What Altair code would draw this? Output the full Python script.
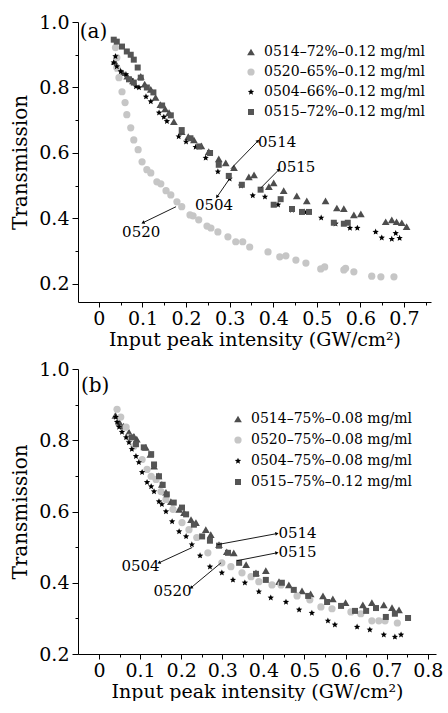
import math
import altair as alt
import pandas as pd

# ---------------- data ----------------
series_ids = ["0514", "0520", "0504", "0515"]
labels_a = ["0514–72%–0.12 mg/ml", "0520–65%–0.12 mg/ml",
            "0504–66%–0.12 mg/ml", "0515–72%–0.12 mg/ml"]
labels_b = ["0514–75%–0.08 mg/ml", "0520–75%–0.08 mg/ml",
            "0504–75%–0.08 mg/ml", "0515–75%–0.12 mg/ml"]

# panel (a)
a_0514_x = [0.036, 0.045, 0.055, 0.065, 0.078, 0.096, 0.105, 0.119, 0.13, 0.141, 0.152, 0.161,
            0.172, 0.19, 0.205, 0.218, 0.235, 0.252, 0.275, 0.291, 0.31, 0.344, 0.356, 0.39,
            0.401, 0.424, 0.454, 0.477, 0.52, 0.546, 0.562, 0.585, 0.601, 0.658, 0.672, 0.683,
            0.695, 0.706]
a_0514_y = [0.88, 0.86, 0.845, 0.835, 0.82, 0.834, 0.81, 0.794, 0.77, 0.748, 0.735, 0.723,
            0.696, 0.665, 0.65, 0.64, 0.622, 0.604, 0.582, 0.57, 0.555, 0.527, 0.533, 0.497,
            0.509, 0.485, 0.469, 0.454, 0.454, 0.432, 0.43, 0.411, 0.414, 0.39, 0.396, 0.39,
            0.387, 0.375]
a_0520_x = [0.038, 0.041, 0.041, 0.046, 0.053, 0.06, 0.064, 0.073, 0.08, 0.09, 0.099, 0.11,
            0.119, 0.133, 0.142, 0.154, 0.165, 0.179, 0.19, 0.209, 0.216, 0.229, 0.248, 0.257,
            0.273, 0.296, 0.314, 0.33, 0.346, 0.388, 0.415, 0.429, 0.452, 0.475, 0.509, 0.518,
            0.562, 0.566, 0.585, 0.626, 0.647, 0.677]
a_0520_y = [0.922, 0.891, 0.861, 0.83, 0.787, 0.754, 0.717, 0.677, 0.64, 0.61, 0.573, 0.549,
            0.539, 0.512, 0.506, 0.485, 0.472, 0.451, 0.436, 0.411, 0.408, 0.396, 0.377, 0.371,
            0.359, 0.344, 0.329, 0.329, 0.313, 0.298, 0.283, 0.286, 0.273, 0.264, 0.246, 0.252,
            0.243, 0.248, 0.237, 0.224, 0.222, 0.222]
a_0504_x = [0.038, 0.034, 0.041, 0.05, 0.062, 0.073, 0.085, 0.092, 0.108, 0.119, 0.138, 0.149,
            0.156, 0.183, 0.2, 0.222, 0.245, 0.273, 0.3, 0.326, 0.353, 0.381, 0.411, 0.443,
            0.472, 0.51, 0.543, 0.576, 0.593, 0.635, 0.649, 0.672, 0.681, 0.69]
a_0504_y = [0.895, 0.876, 0.864, 0.849, 0.84, 0.824, 0.803, 0.8, 0.772, 0.757, 0.723, 0.71,
            0.697, 0.65, 0.634, 0.618, 0.585, 0.543, 0.521, 0.5, 0.47, 0.466, 0.442, 0.426,
            0.42, 0.402, 0.384, 0.371, 0.371, 0.359, 0.341, 0.337, 0.355, 0.34]
a_0515_x = [0.034, 0.041, 0.053, 0.064, 0.073, 0.08, 0.089, 0.096, 0.069, 0.08, 0.11, 0.125,
            0.145, 0.165, 0.19, 0.21, 0.23, 0.255, 0.275, 0.298, 0.328, 0.371, 0.417, 0.401,
            0.443, 0.466, 0.482, 0.539, 0.562, 0.571]
a_0515_y = [0.946, 0.94, 0.925, 0.91, 0.9, 0.885, 0.861, 0.83, 0.825, 0.815, 0.8, 0.785,
            0.745, 0.715, 0.67, 0.645, 0.62, 0.6, 0.564, 0.53, 0.503, 0.488, 0.459, 0.442,
            0.429, 0.42, 0.42, 0.387, 0.384, 0.387]

# panel (b)
b_0514_x = [0.04, 0.05, 0.06, 0.073, 0.085, 0.092, 0.114, 0.125, 0.134, 0.145, 0.153, 0.163,
            0.175, 0.195, 0.207, 0.224, 0.236, 0.26, 0.272, 0.292, 0.311, 0.328, 0.358, 0.382,
            0.406, 0.438, 0.462, 0.494, 0.515, 0.545, 0.569, 0.6, 0.642, 0.664, 0.693, 0.713,
            0.73]
b_0514_y = [0.87, 0.85, 0.84, 0.823, 0.811, 0.803, 0.78, 0.76, 0.727, 0.70, 0.676, 0.654,
            0.628, 0.606, 0.597, 0.577, 0.569, 0.549, 0.535, 0.507, 0.487, 0.484, 0.451, 0.428,
            0.434, 0.403, 0.394, 0.377, 0.369, 0.363, 0.355, 0.344, 0.338, 0.344, 0.338, 0.33,
            0.324]
b_0520_x = [0.044, 0.053, 0.066, 0.073, 0.085, 0.105, 0.117, 0.127, 0.139, 0.151, 0.163, 0.18,
            0.202, 0.219, 0.238, 0.265, 0.299, 0.321, 0.348, 0.37, 0.389, 0.421, 0.443, 0.482,
            0.513, 0.54, 0.567, 0.613, 0.637, 0.664, 0.681, 0.696, 0.726]
b_0520_y = [0.887, 0.865, 0.837, 0.808, 0.783, 0.746, 0.718, 0.699, 0.69, 0.656, 0.634, 0.606,
            0.569, 0.549, 0.527, 0.484, 0.456, 0.445, 0.428, 0.417, 0.403, 0.394, 0.394, 0.363,
            0.352, 0.332, 0.327, 0.318, 0.313, 0.293, 0.293, 0.293, 0.287]
b_0504_x = [0.041, 0.044, 0.049, 0.056, 0.066, 0.073, 0.08, 0.09, 0.097, 0.105, 0.117, 0.127,
            0.134, 0.146, 0.153, 0.163, 0.178, 0.195, 0.212, 0.226, 0.246, 0.27, 0.299, 0.326,
            0.355, 0.389, 0.418, 0.455, 0.487, 0.518, 0.557, 0.574, 0.628, 0.659, 0.693, 0.72,
            0.735]
b_0504_y = [0.865, 0.851, 0.837, 0.823, 0.808, 0.794, 0.775, 0.755, 0.738, 0.71, 0.682, 0.67,
            0.656, 0.628, 0.62, 0.6, 0.572, 0.544, 0.53, 0.507, 0.476, 0.445, 0.428, 0.408,
            0.4, 0.375, 0.358, 0.346, 0.324, 0.315, 0.293, 0.282, 0.276, 0.268, 0.254, 0.248,
            0.254]
b_0515_x = [0.08, 0.09, 0.109, 0.127, 0.134, 0.146, 0.155, 0.165, 0.182, 0.202, 0.212, 0.231,
            0.251, 0.27, 0.292, 0.314, 0.341, 0.382, 0.406, 0.445, 0.474, 0.509, 0.555, 0.589,
            0.623, 0.65, 0.674, 0.698, 0.72, 0.752]
b_0515_y = [0.808, 0.789, 0.78, 0.761, 0.732, 0.699, 0.675, 0.648, 0.625, 0.611, 0.592, 0.563,
            0.53, 0.518, 0.504, 0.484, 0.456, 0.425, 0.408, 0.4, 0.38, 0.363, 0.346, 0.335,
            0.321, 0.321, 0.329, 0.304, 0.313, 0.301]

# annotations (label text position and arrow from data point to label)
ann_text = ["0514", "0515", "0504", "0520"]
ann_a_tx = [0.409, 0.453, 0.264, 0.097]
ann_a_ty = [0.633, 0.558, 0.442, 0.359]
ann_a_x1 = [0.303, 0.372, 0.298, 0.177]
ann_a_y1 = [0.552, 0.494, 0.518, 0.436]
ann_a_x2 = [0.365, 0.413, 0.271, 0.101]
ann_a_y2 = [0.637, 0.549, 0.466, 0.387]

ann_b_tx = [0.483, 0.483, 0.101, 0.179]
ann_b_ty = [0.541, 0.486, 0.448, 0.376]
ann_b_x1 = [0.288, 0.336, 0.227, 0.297]
ann_b_y1 = [0.507, 0.462, 0.499, 0.456]
ann_b_x2 = [0.433, 0.433, 0.146, 0.224]
ann_b_y2 = [0.538, 0.484, 0.456, 0.386]

x_ticks_a = [round(i * 0.05, 2) for i in range(16)]
x_ticks_b = [round(i * 0.05, 2) for i in range(17)]
y_ticks = [round(0.2 + i * 0.1, 1) for i in range(9)]

# ---------------- styling ----------------
FONT = "DejaVu Serif"


def star_path(n=5, r_out=1.0, r_in=0.45):
    pts = []
    for k in range(2 * n):
        r = r_out if k % 2 == 0 else r_in
        ang = math.pi * k / n - math.pi / 2
        pts.append((r * math.cos(ang), r * math.sin(ang)))
    return "M" + "L".join(f"{px:.3f},{py:.3f}" for px, py in pts) + "Z"


SHAPES = ["triangle-up", "circle", star_path(), "square"]
COLORS = ["#4d4d4d", "#c6c6c6", "#000000", "#555555"]
SIZES = [60, 36, 130, 42]


def make_df(labels, xs_list, ys_list):
    rows = []
    for lab, xs, ys in zip(labels, xs_list, ys_list):
        for xv, yv in zip(xs, ys):
            rows.append({"x": xv, "y": yv, "series": lab})
    return pd.DataFrame(rows)


def legend(leg_x, leg_y, leg_pad):
    return alt.Legend(title=None, orient="none", legendX=leg_x, legendY=leg_y,
                      labelFont=FONT, labelFontSize=14, rowPadding=leg_pad,
                      labelOffset=6, padding=0, symbolStrokeWidth=0, labelLimit=0)


def panel(df, labels, tx, ty, x1, y1, x2, y2, xdom, ydom, w, h, xticks, tag, tag_xy,
          leg_x, leg_y, leg_pad):
    sx = w / (xdom[1] - xdom[0])
    sy = h / (ydom[1] - ydom[0])
    xscale = alt.Scale(domain=xdom, nice=False, zero=False)
    yscale = alt.Scale(domain=ydom, nice=False, zero=False)
    major_x = "abs(datum.value*10 - round(datum.value*10)) < 0.001"
    major_y = "abs(datum.value*5 - round(datum.value*5)) < 0.001"
    xaxis = alt.Axis(
        values=xticks,
        labelExpr=f"{major_x} ? (abs(datum.value) < 0.001 ? '0' : format(datum.value, '.1f')) : ''",
        tickSize={"condition": {"test": major_x, "value": 5}, "value": 3},
        labelFontSize=19, titleFontSize=19, labelPadding=2, titlePadding=2,
        labelFont=FONT, titleFont=FONT, titleFontWeight="normal",
        labelOverlap=False, grid=False,
    )
    yaxis = alt.Axis(
        values=y_ticks,
        labelExpr=f"{major_y} ? format(datum.value, '.1f') : ''",
        tickSize={"condition": {"test": major_y, "value": 6}, "value": 3},
        labelFontSize=19, titleFontSize=20, labelPadding=3, titlePadding=8,
        labelFont=FONT, titleFont=FONT, titleFontWeight="normal",
        labelOverlap=False, grid=False,
    )
    XT = "Input peak intensity (GW/cm²)"
    YT = "Transmission"

    pts = alt.Chart(df).mark_point(filled=True, opacity=1, strokeWidth=0).encode(
        x=alt.X("x:Q", scale=xscale, axis=xaxis, title=XT),
        y=alt.Y("y:Q", scale=yscale, axis=yaxis, title=YT),
        color=alt.Color("series:N", scale=alt.Scale(domain=labels, range=COLORS),
                        legend=legend(leg_x, leg_y, leg_pad)),
        shape=alt.Shape("series:N", scale=alt.Scale(domain=labels, range=SHAPES),
                        legend=legend(leg_x, leg_y, leg_pad)),
        size=alt.Size("series:N", scale=alt.Scale(domain=labels, range=SIZES),
                      legend=legend(leg_x, leg_y, leg_pad)),
    )

    ann = pd.DataFrame({"text": ann_text, "tx": tx, "ty": ty,
                        "x1": x1, "y1": y1, "x2": x2, "y2": y2})
    angles = []
    for a, b, c, d in zip(x1, y1, x2, y2):
        dx = (c - a) * sx
        dy = -(d - b) * sy
        angles.append((math.degrees(math.atan2(dx, -dy)) + 360) % 360)
    ann["angle"] = angles

    rules = alt.Chart(ann).mark_rule(color="black", strokeWidth=0.9).encode(
        x=alt.X("x1:Q", scale=xscale, axis=xaxis, title=XT), x2="x2:Q",
        y=alt.Y("y1:Q", scale=yscale, axis=yaxis, title=YT), y2="y2:Q",
    )
    heads = alt.Chart(ann).mark_point(shape="triangle-up", filled=True, color="black",
                                      size=14, opacity=1, strokeWidth=0).encode(
        x=alt.X("x2:Q", scale=xscale, axis=xaxis, title=XT),
        y=alt.Y("y2:Q", scale=yscale, axis=yaxis, title=YT),
        angle=alt.Angle("angle:Q", scale=None),
    )
    texts = alt.Chart(ann).mark_text(font=FONT, fontSize=15, color="black",
                                     align="center", baseline="middle").encode(
        x=alt.X("tx:Q", scale=xscale, axis=xaxis, title=XT),
        y=alt.Y("ty:Q", scale=yscale, axis=yaxis, title=YT),
        text="text:N",
    )
    tagdf = pd.DataFrame({"tx": [tag_xy[0]], "ty": [tag_xy[1]], "text": [tag]})
    tagm = alt.Chart(tagdf).mark_text(font=FONT, fontSize=20, color="black",
                                      align="left", baseline="middle").encode(
        x=alt.X("tx:Q", scale=xscale, axis=xaxis, title=XT),
        y=alt.Y("ty:Q", scale=yscale, axis=yaxis, title=YT),
        text="text:N",
    )
    return alt.layer(pts, rules, heads, texts, tagm).properties(width=w, height=h)


df_a = make_df(labels_a, [a_0514_x, a_0520_x, a_0504_x, a_0515_x],
               [a_0514_y, a_0520_y, a_0504_y, a_0515_y])
df_b = make_df(labels_b, [b_0514_x, b_0520_x, b_0504_x, b_0515_x],
               [b_0514_y, b_0520_y, b_0504_y, b_0515_y])

pa = panel(df_a, labels_a, ann_a_tx, ann_a_ty, ann_a_x1, ann_a_y1, ann_a_x2, ann_a_y2,
           [-0.048, 0.762], [0.145, 1.0], 353, 280, x_ticks_a, "(a)", (-0.044, 0.97),
           166, 23, 6)
pb = panel(df_b, labels_b, ann_b_tx, ann_b_ty, ann_b_x1, ann_b_y1, ann_b_x2, ann_b_y2,
           [-0.051, 0.82], [0.2, 1.0], 358, 285, x_ticks_b, "(b)", (-0.044, 0.952),
           153, 43, 7)

chart = alt.vconcat(pa, pb, spacing=11).resolve_scale(
    color="independent", shape="independent", size="independent",
    x="independent", y="independent",
).resolve_legend(
    color="independent", shape="independent", size="independent",
).properties(
    padding={"left": 10, "top": 13, "right": 0, "bottom": 0},
    background="white",
).configure_view(stroke=None).configure_axis(
    domainColor="black", tickColor="black", labelColor="black", titleColor="black",
    domainWidth=1, tickWidth=1,
)

chart.save("out.html", embed_options={"renderer": "svg", "actions": False})
